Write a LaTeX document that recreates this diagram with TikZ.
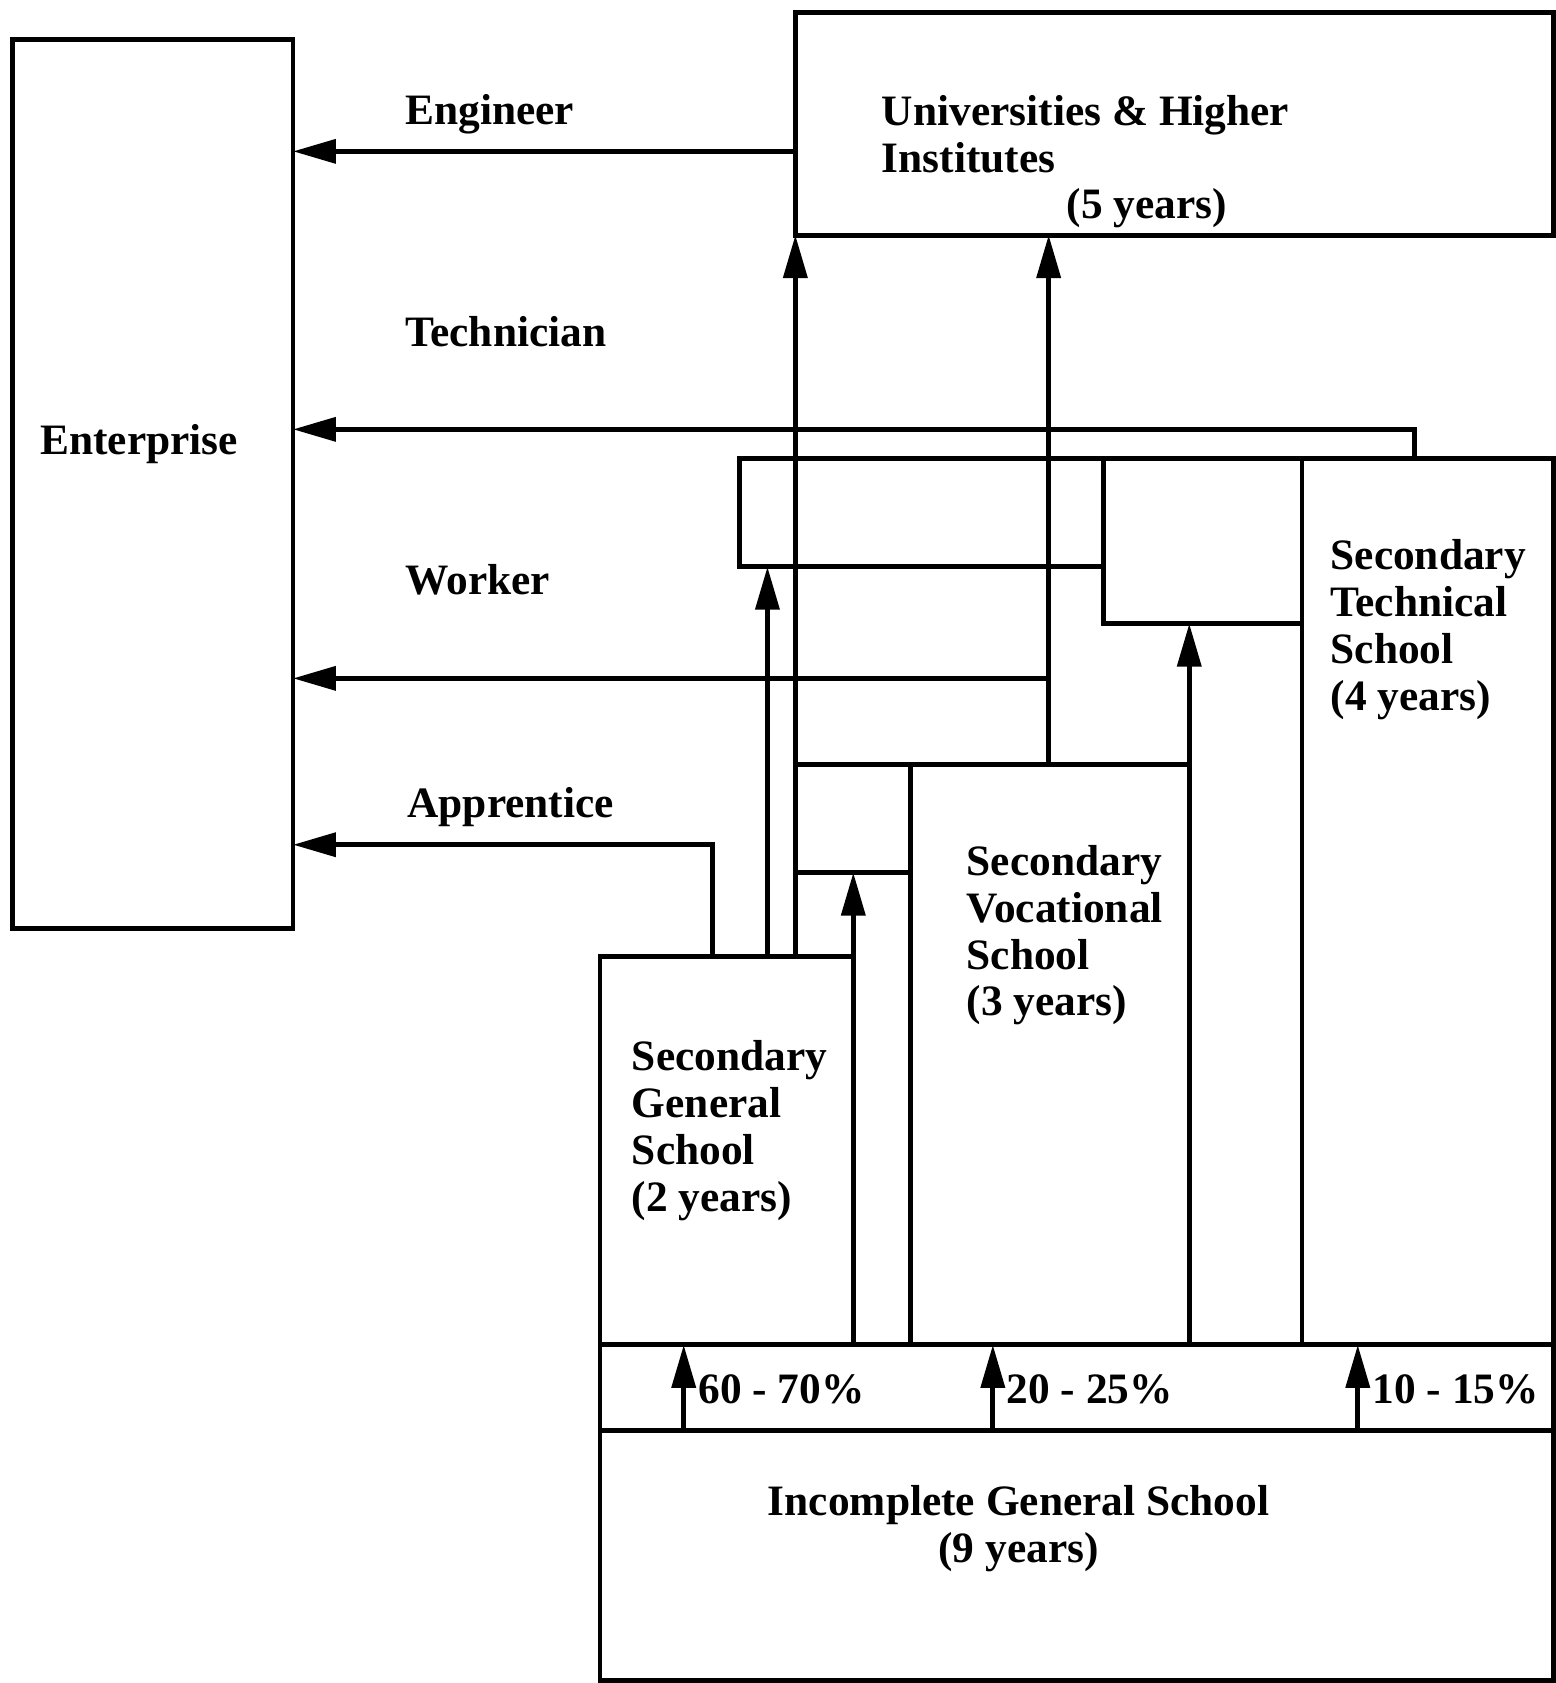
\documentclass[tikz,border=0pt]{standalone}
\usepackage{fontspec}
\setmainfont{Liberation Serif}
\usetikzlibrary{arrows.meta,fit}

\begin{document}
\begin{tikzpicture}[x=0.1mm, y=-0.1mm,
  box/.style={draw, line width=1.3pt, inner sep=0pt, outer sep=0pt},
  arr/.style={line width=1.3pt, -{Triangle[length=4mm, width=2.2mm]}},
  txt/.style={font=\fontsize{11.5}{12.4}\selectfont\bfseries, inner sep=0pt, align=left}
]
  \useasboundingbox (0,0) rectangle (1449,1568);

  % schools and outlets
  \node[box, fit={(12,37) (273,865)}] (ent) {};
  \node[box, fit={(741,12) (1447,219)}] (univ) {};
  \node[box, fit={(559,891) (795,1253)}] (sgs) {};
  \node[box, fit={(848,712) (1108,1253)}] (svs) {};
  \node[box, fit={(1213,427) (1447,1253)}] (sts) {};
  \node[box, fit={(559,1253) (1447,1333)}] (band) {};
  \node[box, fit={(559,1333) (1447,1566)}] (igs) {};
  % extra courses
  \node[box, fit={(689,427) (1028,528)}] (wbox) {};
  \node[box, fit={(1028,427) (1213,581)}] (tbox) {};
  \node[box, fit={(741,712) (848,813)}] (sbox) {};

  % texts
  \node[txt, anchor=west] (enttxt) at (37,414) {Enterprise};
  \node[txt, anchor=north west] (univtxt) at (821,88)
    {Universities \& Higher\\Institutes\\\hspace*{17.2mm}(5 years)};
  \node[txt, anchor=north west] (sgstxt) at (588,969)
    {Secondary\\General\\School\\(2 years)};
  \node[txt, anchor=north west] (svstxt) at (900,787)
    {Secondary\\Vocational\\School\\(3 years)};
  \node[txt, anchor=north west] (ststxt) at (1239,502)
    {Secondary\\Technical\\School\\(4 years)};
  \node[txt, anchor=north, align=center] (igstxt) at (949,1383)
    {Incomplete General School\\(9 years)};

  \node[txt, anchor=base west] (eng) at (377,116) {Engineer};
  \node[txt, anchor=base west] (tec) at (377,323) {Technician};
  \node[txt, anchor=base west] (wrk) at (377,554) {Worker};
  \node[txt, anchor=base west] (app) at (379,762) {Apprentice};

  \node[txt, anchor=base west] (pc1) at (650,1308) {60 - 70\%};
  \node[txt, anchor=base west] (pc2) at (937,1308) {20 - 25\%};
  \node[txt, anchor=base west] (pc3) at (1278,1308) {10 - 15\%};

  % bends of the connectors
  \coordinate (engy) at (0,141);
  \coordinate (tech) at (1318,400);
  \coordinate (work) at (977,632);
  \coordinate (appr) at (664,787);
  \coordinate (wup) at (715,0);
  \coordinate (p1) at (637,0);
  \coordinate (p2) at (925,0);
  \coordinate (p3) at (1265,0);

  % to enterprise
  \draw[arr] (univ.west |- engy) -- (ent.east |- engy);
  \draw[arr] (sts.north -| tech) -- (tech) -- (ent.east |- tech);
  \draw[arr] (work) -- (ent.east |- work);
  \draw[arr] (sgs.north -| appr) -- (appr) -- (ent.east |- appr);

  % between schools
  \draw[arr] (svs.north -| work) -- (univ.south -| work);
  \draw[arr] (sgs.north -| univ.west) -- (univ.south west);
  \draw[arr] (sgs.north -| wup) -- (wbox.south -| wup);
  \draw[arr] (sgs.south east) -- (sbox.south -| sgs.east);
  \draw[arr] (svs.south east) -- (tbox.south -| svs.east);

  % shares after nine years
  \draw[arr] (igs.north -| p1) -- (band.north -| p1);
  \draw[arr] (igs.north -| p2) -- (band.north -| p2);
  \draw[arr] (igs.north -| p3) -- (band.north -| p3);
\end{tikzpicture}
\end{document}
